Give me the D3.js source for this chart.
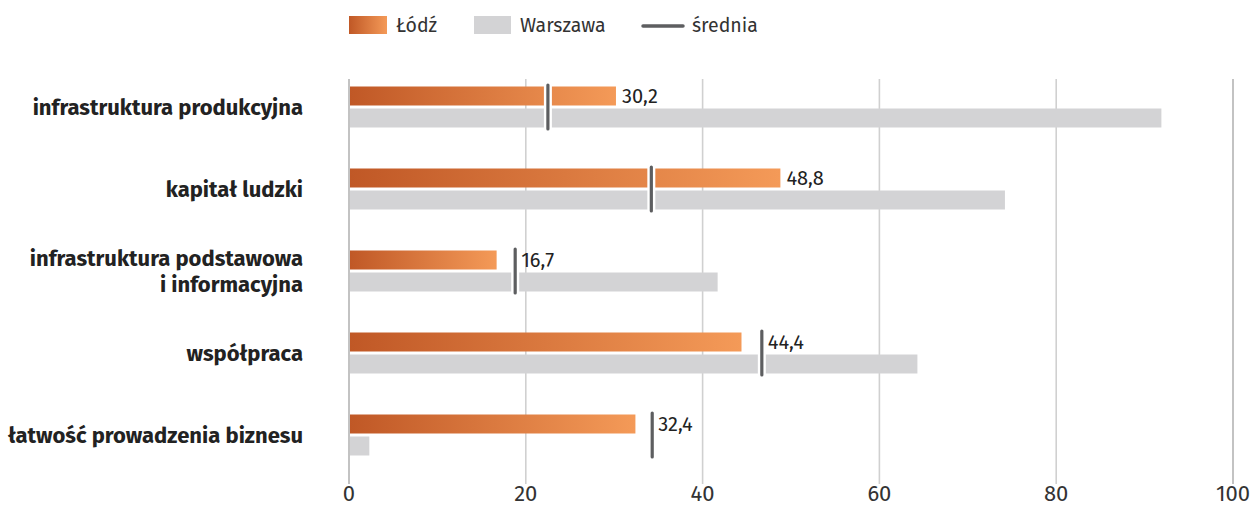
<!DOCTYPE html>
<html>
<head>
<meta charset="utf-8">
<script src="https://cdn.jsdelivr.net/npm/d3@7"></script>
<style>
  body { margin: 0; background: #fff; }
  svg text { font-family: "Fira Sans", "Noto Sans", sans-serif; }
</style>
</head>
<body>
<div id="chart"></div>
<script>
// data
const categories = [
  ["infrastruktura produkcyjna"],
  ["kapitał ludzki"],
  ["infrastruktura podstawowa", "i informacyjna"],
  ["współpraca"],
  ["łatwość prowadzenia biznesu"]
];
const lodz = [30.2, 48.8, 16.7, 44.4, 32.4];
const warszawa = [91.9, 74.2, 41.7, 64.3, 2.3];
const srednia = [22.5, 34.2, 18.8, 46.7, 34.3];
const ticks = [0, 20, 40, 60, 80, 100];
const legendItems = ["Łódź", "Warszawa", "średnia"];

const width = 1254, height = 508;

const svg = d3.select("#chart")
  .append("svg")
  .attr("width", width)
  .attr("height", height);

const x = d3.scaleLinear([0, 100], [349, 1233]);
const y = d3.scaleBand(d3.range(categories.length), [66, 476]).padding(0);

// gradient for Łódź bars
const grad = svg.append("defs").append("linearGradient")
  .attr("id", "lodzGrad")
  .attr("x1", "0%").attr("x2", "100%");
grad.append("stop").attr("offset", "0%").attr("stop-color", "#c05826");
grad.append("stop").attr("offset", "100%").attr("stop-color", "#f49a58");

// grid
svg.append("g")
  .selectAll("line")
  .data(ticks)
  .join("line")
  .attr("x1", d => x(d)).attr("x2", d => x(d))
  .attr("y1", 79).attr("y2", 484)
  .attr("stroke", d => (d === 0 || d === 100) ? "#b4b4b4" : "#d0d0d0")
  .attr("stroke-width", 1.6);

// x axis labels
svg.append("g")
  .selectAll("text")
  .data(ticks)
  .join("text")
  .attr("x", d => x(d))
  .attr("y", 501)
  .attr("text-anchor", "middle")
  .attr("font-size", 22)
  .attr("fill", "#333")
  .text(d => d);

const rows = svg.append("g")
  .selectAll("g")
  .data(categories.map((c, i) => i))
  .join("g")
  .attr("transform", i => `translate(0,${y(i) + y.bandwidth() / 2})`);

// Warszawa
rows.append("rect")
  .attr("x", x(0) + 1)
  .attr("y", 1.5)
  .attr("width", i => x(warszawa[i]) - x(0) - 1)
  .attr("height", 19)
  .attr("fill", "#d3d3d5");

// Łódź
rows.append("rect")
  .attr("x", x(0) + 1)
  .attr("y", -20.5)
  .attr("width", i => x(lodz[i]) - x(0) - 1)
  .attr("height", 19)
  .attr("fill", "url(#lodzGrad)");

// średnia marker with white halo
rows.append("line")
  .attr("x1", i => x(srednia[i])).attr("x2", i => x(srednia[i]))
  .attr("y1", -22).attr("y2", 22)
  .attr("stroke", "#fff")
  .attr("stroke-width", 8);
rows.append("line")
  .attr("x1", i => x(srednia[i])).attr("x2", i => x(srednia[i]))
  .attr("y1", -22).attr("y2", 22)
  .attr("stroke", "#5d5e60")
  .attr("stroke-width", 3.2)
  .attr("stroke-linecap", "round");

// value labels
rows.append("text")
  .attr("x", i => Math.max(x(lodz[i]), x(srednia[i])) + 6)
  .attr("y", -4)
  .attr("font-size", 20)
  .attr("fill", "#222")
  .text(i => String(lodz[i]).replace(".", ","));

// category labels
rows.append("text")
  .attr("x", 303)
  .attr("text-anchor", "end")
  .attr("font-weight", "bold")
  .attr("font-size", 22)
  .attr("fill", "#222")
  .each(function (i) {
    const lines = categories[i];
    const t = d3.select(this);
    lines.forEach((l, k) => {
      t.append("tspan")
        .attr("x", 303)
        .attr("y", (k - (lines.length - 1) / 2) * 26 + 8)
        .text(l);
    });
  });

// legend
const lg = svg.append("g");
lg.append("rect").attr("x", 349).attr("y", 16).attr("width", 38).attr("height", 18).attr("fill", "url(#lodzGrad)");
lg.append("rect").attr("x", 474).attr("y", 16).attr("width", 37).attr("height", 18).attr("fill", "#d3d3d5");
lg.append("line").attr("x1", 643).attr("x2", 683).attr("y1", 26).attr("y2", 26)
  .attr("stroke", "#5d5e60").attr("stroke-width", 3.5).attr("stroke-linecap", "round");
lg.selectAll("text")
  .data(legendItems)
  .join("text")
  .attr("x", (d, i) => [396, 520, 692][i])
  .attr("y", 32)
  .attr("font-size", 19.5)
  .attr("fill", "#333")
  .text(d => d);
</script>
</body>
</html>
